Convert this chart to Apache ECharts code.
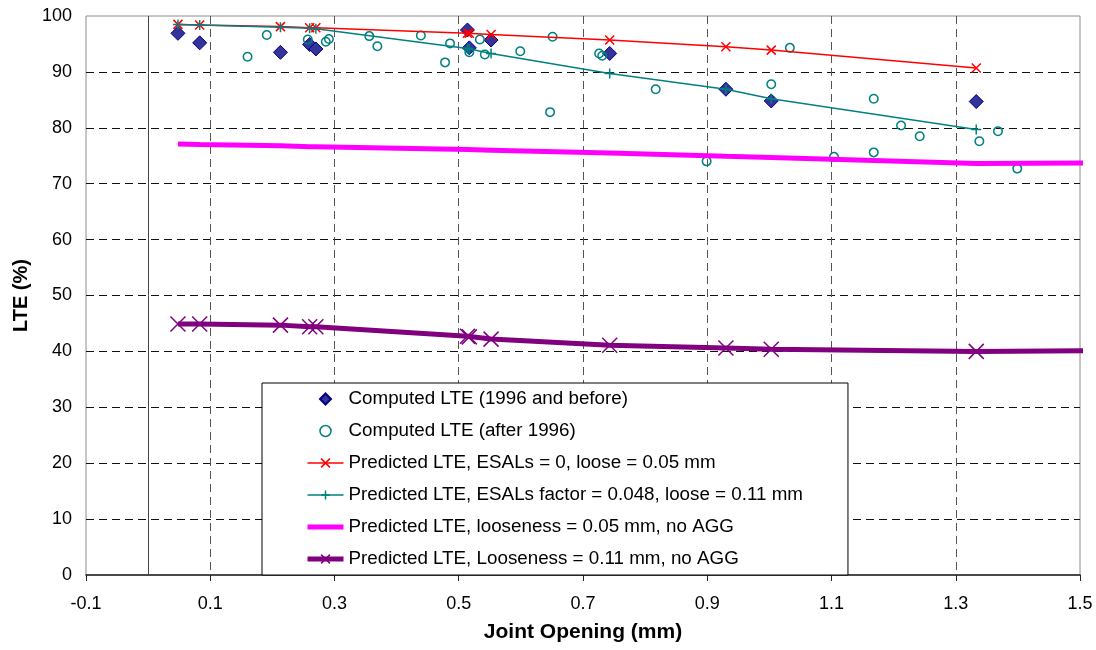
<!DOCTYPE html>
<html>
<head>
<meta charset="utf-8">
<script src="https://cdn.jsdelivr.net/npm/echarts@6/dist/echarts.min.js"></script>
<style>
html,body{margin:0;padding:0;background:#fff;}
#chart{width:1096px;height:650px;}
</style>
</head>
<body>
<div id="chart"></div>
<script>
// ---- data ----
const openings = [0.048, 0.083, 0.213, 0.260, 0.270, 0.514, 0.517, 0.552, 0.743, 0.930, 1.003, 1.333];
const lteBefore1996 = [96.9, 95.2, 93.5, 94.9, 94.1, 97.5, 94.3, 95.7, 93.3, 86.9, 84.8, 84.7];

const openingsAfter1996 = [0.160, 0.191, 0.257, 0.286, 0.291, 0.356, 0.369, 0.439, 0.478, 0.486,
  0.517, 0.534, 0.542, 0.599, 0.647, 0.651, 0.726, 0.731, 0.817, 0.899,
  1.003, 1.033, 1.104, 1.168, 1.168, 1.212, 1.242, 1.338, 1.368, 1.399];
const lteAfter1996 = [92.7, 96.6, 95.8, 95.4, 95.9, 96.4, 94.6, 96.5, 91.7, 95.1,
  93.5, 95.8, 93.1, 93.7, 82.8, 96.3, 93.3, 92.9, 86.9, 74.0,
  87.8, 94.3, 74.8, 85.2, 75.6, 80.4, 78.5, 77.6, 79.4, 72.7];

const predEsal0 = [98.5, 98.4, 98.1, 97.9, 97.9, 96.9, 96.9, 96.7, 95.7, 94.5, 93.9, 90.7];
const predEsalFactor = [98.5, 98.4, 98.0, 97.8, 97.7, 94.2, 94.1, 93.3, 89.7, 86.9, 85.2, 79.7];

const noAggOpenings = [0.048, 0.083, 0.213, 0.260, 0.270, 0.514, 0.517, 0.552, 0.743, 0.930, 1.003, 1.333, 1.512];
const predLoose005 = [77.1, 77.0, 76.8, 76.6, 76.6, 76.1, 76.1, 76.0, 75.5, 74.9, 74.7, 73.6, 73.7];
const predLoose011 = [44.9, 44.9, 44.7, 44.4, 44.4, 42.7, 42.6, 42.2, 41.1, 40.6, 40.4, 40.0, 40.1];

const seriesNames = [
  'Computed LTE (1996 and before)',
  'Computed LTE (after 1996)',
  'Predicted LTE, ESALs = 0, loose = 0.05 mm',
  'Predicted LTE, ESALs factor = 0.048, loose = 0.11 mm',
  'Predicted LTE, looseness = 0.05 mm, no AGG',
  'Predicted LTE, Looseness = 0.11 mm, no AGG'
];
const xTitle = 'Joint Opening (mm)';
const yTitle = 'LTE (%)';
const zeroLineAt = 0;

// ---- helpers ----
const pairs = (xs, ys) => xs.map((x, i) => [x, ys[i]]);
const FONT = 'Liberation Sans, Arial, Helvetica, sans-serif';
const X_PATH = 'path://M0,0L10,10M10,0L0,10';
const PLUS_PATH = 'path://M5,0L5,10M0,5L10,5';
const DIAMOND_PATH = 'path://M5,0L10,5L5,10L0,5Z';

const chart = echarts.init(document.getElementById('chart'), null, {renderer: 'canvas'});

const lastNoMarker = (xs, ys) => xs.map((x, i) => i === xs.length - 1 ? {value: [x, ys[i]], symbol: 'none'} : [x, ys[i]]);

const option = {
  animation: false,
  backgroundColor: '#ffffff',
  textStyle: {fontFamily: FONT},
  grid: {
    left: 86, right: 16, top: 16, bottom: 75,
    show: true, borderColor: '#8c8c8c', borderWidth: 1,
    containLabel: false, outerBoundsMode: 'none'
  },
  xAxis: {
    type: 'value', min: -0.1, max: 1.5, interval: 0.2,
    name: xTitle, nameLocation: 'middle', nameGap: 47,
    nameTextStyle: {fontFamily: FONT, fontSize: 21, fontWeight: 'bold', color: '#000'},
    axisLine: {show: true, onZero: false, lineStyle: {color: '#222', width: 1.5}},
    axisTick: {show: true, inside: false, length: 6, lineStyle: {color: '#222'}},
    axisLabel: {fontFamily: FONT, fontSize: 18, color: '#000', margin: 20,
      formatter: v => (Math.round(v * 10) / 10).toFixed(1)},
    splitLine: {show: true, showMinLine: false, showMaxLine: false,
      lineStyle: {color: '#555', type: [8, 5], width: 1}}
  },
  yAxis: {
    type: 'value', min: 0, max: 100, interval: 10,
    name: yTitle, nameLocation: 'middle', nameGap: 53, nameRotate: 90,
    nameTextStyle: {fontFamily: FONT, fontSize: 20, fontWeight: 'bold', color: '#000'},
    axisLine: {show: false, onZero: false},
    axisTick: {show: false},
    axisLabel: {fontFamily: FONT, fontSize: 18, color: '#000', margin: 14},
    splitLine: {show: true, showMinLine: false, showMaxLine: false,
      lineStyle: {color: '#111', type: [8, 5], width: 1}}
  },
  legend: {
    orient: 'vertical', left: 262, top: 383,
    padding: [6, 45, 6, 43],
    itemWidth: 36, itemHeight: 11, itemGap: 12,
    symbolKeepAspect: true,
    backgroundColor: '#ffffff', borderColor: '#000', borderWidth: 1,
    textStyle: {fontFamily: FONT, fontSize: 18.8, color: '#000', lineHeight: 20},
    z: 10,
    data: [
      {name: seriesNames[0], icon: DIAMOND_PATH, itemStyle: {opacity: 1}},
      {name: seriesNames[1], icon: 'circle', itemStyle: {borderWidth: 1.5, opacity: 1}},
      {name: seriesNames[2], lineStyle: {width: 1.5}, itemStyle: {borderWidth: 1.5}},
      {name: seriesNames[3], lineStyle: {width: 1.5}, itemStyle: {borderWidth: 1.5}},
      {name: seriesNames[4], lineStyle: {width: 5}, itemStyle: {opacity: 0}},
      {name: seriesNames[5], lineStyle: {width: 5}, itemStyle: {borderWidth: 1.5}}
    ]
  },
  series: [
    {
      name: seriesNames[0], type: 'scatter',
      data: pairs(openings, lteBefore1996),
      symbol: 'diamond', symbolSize: 14,
      itemStyle: {color: '#333399', borderColor: '#000080', borderWidth: 1, opacity: 1}
    },
    {
      name: seriesNames[1], type: 'scatter',
      data: pairs(openingsAfter1996, lteAfter1996),
      symbol: 'circle', symbolSize: 8.5,
      itemStyle: {color: 'rgba(255,255,255,0)', borderColor: '#008080', borderWidth: 1.5, opacity: 1}
    },
    {
      name: seriesNames[2], type: 'line',
      data: pairs(openings, predEsal0),
      symbol: X_PATH, symbolSize: 9, showSymbol: true,
      lineStyle: {color: '#ff0000', width: 1.5},
      itemStyle: {color: '#ff0000', borderColor: '#ff0000', borderWidth: 1.5}
    },
    {
      name: seriesNames[3], type: 'line',
      data: pairs(openings, predEsalFactor),
      symbol: PLUS_PATH, symbolSize: 10, showSymbol: true,
      lineStyle: {color: '#008080', width: 1.5},
      itemStyle: {color: '#008080', borderColor: '#008080', borderWidth: 1.5}
    },
    {
      name: seriesNames[4], type: 'line', clip: false,
      data: pairs(noAggOpenings, predLoose005),
      symbol: 'none',
      lineStyle: {color: '#ff00ff', width: 5},
      itemStyle: {color: '#ff00ff'},
      markLine: {
        silent: true, symbol: 'none', animation: false,
        label: {show: false},
        lineStyle: {color: '#444', type: 'solid', width: 1},
        emphasis: {disabled: true},
        data: [{xAxis: zeroLineAt}]
      }
    },
    {
      name: seriesNames[5], type: 'line', clip: false,
      data: lastNoMarker(noAggOpenings, predLoose011),
      symbol: X_PATH, symbolSize: 15, showSymbol: true,
      lineStyle: {color: '#800080', width: 5},
      itemStyle: {color: '#800080', borderColor: '#800080', borderWidth: 1.5}
    }
  ]
};
chart.setOption(option);
</script>
</body>
</html>
